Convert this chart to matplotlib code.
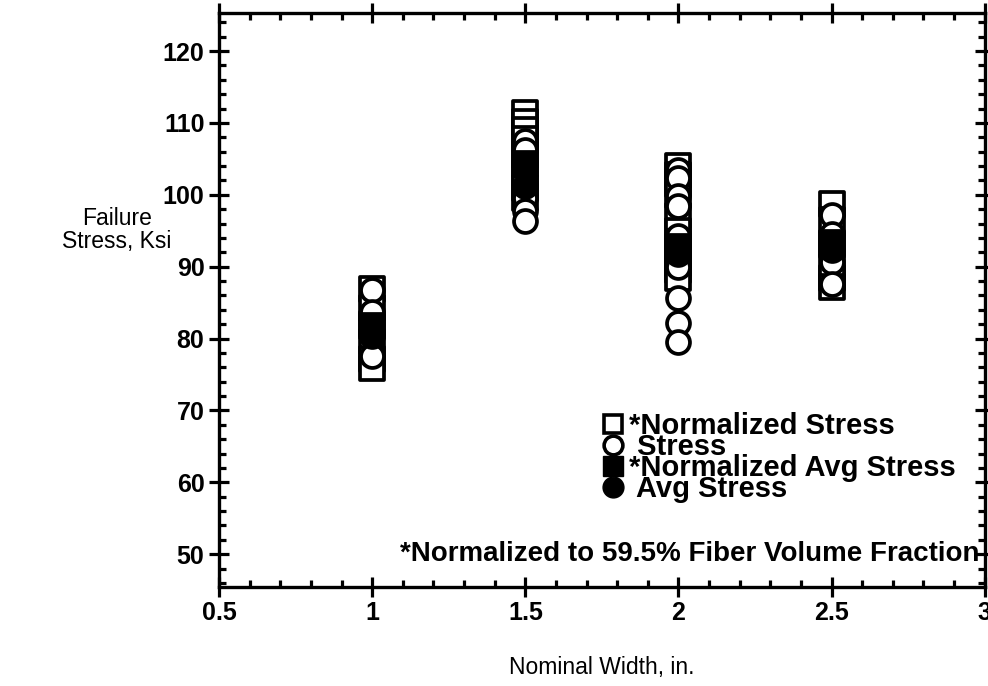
import numpy as np
import matplotlib.pyplot as plt
from matplotlib.lines import Line2D
from matplotlib.ticker import MultipleLocator
from matplotlib.transforms import blended_transform_factory

plt.rcParams['font.family'] = ['Liberation Sans', 'DejaVu Sans']

# nominal width, in.
widths = [1.0, 1.5, 2.0, 2.5]

# *normalized stress (open squares), ksi
norm_stress = [
    [86.9, 84.2, 82.0, 79.5, 77.2, 75.9],
    [111.4, 110.2, 109.0, 107.8, 105.5, 103.0, 101.0, 99.5],
    [104.0, 102.8, 101.5, 100.0, 97.0, 95.0, 93.5, 92.0, 90.5, 89.5, 88.5],
    [98.7, 96.5, 93.0, 90.0, 88.5, 87.2],
]
# stress (open circles), ksi
stress = [
    [86.8, 83.7, 80.5, 77.6],
    [107.5, 106.3, 99.5, 97.7, 96.4],
    [103.4, 102.3, 99.8, 98.4, 94.3, 92.0, 89.9, 85.6, 82.2, 79.5],
    [97.2, 94.5, 90.6, 87.6],
]
# averages (filled markers)
norm_avg = [81.8, 104.3, 92.8, 93.3]
avg_stress = [80.3, 101.3, 91.8, 92.3]


def column(xs, ys):
    """Flatten per-width lists, top value first so lower marks draw on top."""
    px, py = [], []
    for x, vals in zip(xs, ys):
        for v in sorted(vals, reverse=True):
            px.append(x)
            py.append(v)
    return px, py


fig = plt.figure(figsize=(9.88, 6.86), dpi=100)
ax = fig.add_axes([0.2217, 0.145, 0.775, 0.836])

ms_sq = 17
ms_ci = 16.5
lw = 2.7

x, y = column(widths, norm_stress)
ax.scatter(x, y, marker='s', s=ms_sq ** 2, facecolors='white',
           edgecolors='black', linewidths=lw, zorder=3)
x, y = column(widths, stress)
ax.scatter(x, y, marker='o', s=ms_ci ** 2, facecolors='white',
           edgecolors='black', linewidths=lw, zorder=4)
ax.scatter(widths, norm_avg, marker='s', s=ms_sq ** 2, color='black',
           linewidths=lw, zorder=5)
ax.scatter(widths, avg_stress, marker='o', s=ms_ci ** 2, color='black',
           linewidths=lw, zorder=6)

ax.set_xlim(0.5, 3.0)
ax.set_ylim(45.5, 125.3)
ax.xaxis.set_minor_locator(MultipleLocator(0.1))
ax.yaxis.set_minor_locator(MultipleLocator(2))
ax.set_yticks(np.arange(50, 121, 10))
ax.set_xticks([0.5, 1, 1.5, 2, 2.5, 3])
ax.set_xticklabels(['0.5', '1', '1.5', '2', '2.5', '3'])
for lab in ax.get_xticklabels() + ax.get_yticklabels():
    lab.set_fontweight('bold')

for s in ax.spines.values():
    s.set_linewidth(2.4)
ax.tick_params(which='major', direction='inout', length=15, width=2.3,
               top=True, right=True, labelsize=18, pad=3)
ax.tick_params(which='minor', direction='in', length=5, width=2.3,
               top=True, right=True)

ax.set_xlabel('Nominal Width, in.', fontsize=16.5, labelpad=22)
fig.text(0.118, 0.665, 'Failure\nStress, Ksi', fontsize=16.5,
         ha='center', va='center', linespacing=1.0)

handles = [
    Line2D([], [], ls='none', marker='s', ms=13.5, mfc='white', mec='black', mew=2.6),
    Line2D([], [], ls='none', marker='o', ms=13.5, mfc='white', mec='black', mew=2.6),
    Line2D([], [], ls='none', marker='s', ms=15, color='black'),
    Line2D([], [], ls='none', marker='o', ms=15, color='black'),
]
labels = ['*Normalized Stress', ' Stress', '*Normalized Avg Stress', ' Avg Stress']
leg = ax.legend(handles, labels, loc='upper left', bbox_to_anchor=(0.481, 0.33),
                frameon=False, prop={'size': 21, 'weight': 'bold'},
                labelspacing=-0.24, handlelength=0.76, handletextpad=0.17,
                borderpad=0)

trans = blended_transform_factory(ax.transAxes, ax.transData)
ax.text(0.993, 50, '*Normalized to 59.5% Fiber Volume Fraction',
        transform=trans, ha='right', va='center', fontsize=20,
        fontweight='bold')

fig.savefig('out.png', dpi=100)
